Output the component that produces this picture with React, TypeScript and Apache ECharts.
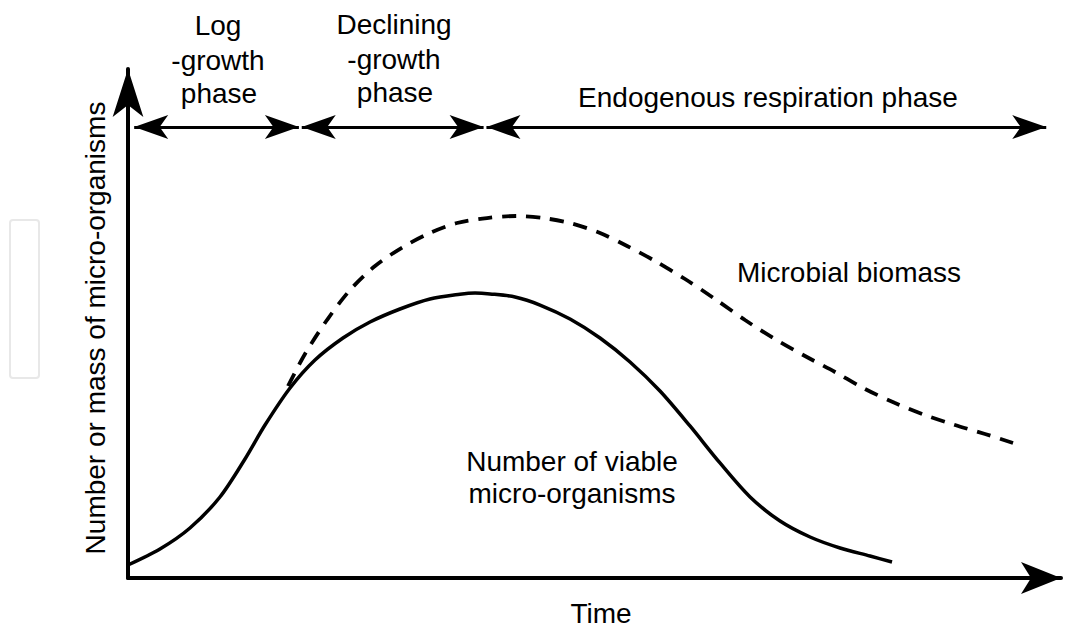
import React, { useEffect, useRef } from "react";
import * as echarts from "echarts";

// Time axis (arbitrary units) and curve values
const viableX = [0, 3.36, 6.51, 9.66, 12.29, 14.39, 17.02, 19.64, 22.58, 25.42, 28.57, 31.72, 34.87, 36.45, 38.03, 40.65, 43.28, 46.43, 49.58, 52.73, 55.88, 59.03, 62.18, 65.34, 68.49, 71.64, 74.79, 77.94, 80.25];
const viableY = [2.44, 5.44, 9.38, 15.2, 22.33, 28.7, 35.65, 40.9, 45.03, 48.03, 50.47, 52.35, 53.24, 53.47, 53.3, 52.72, 51.22, 48.59, 45.03, 40.53, 35.08, 28.52, 21.58, 15.2, 10.69, 7.69, 5.63, 4.13, 3.0];

const biomassX = [16.81, 18.59, 20.9, 23.32, 25.95, 28.89, 31.72, 34.56, 37.71, 40.86, 43.59, 46.43, 49.58, 52.42, 55.36, 58.51, 61.66, 64.81, 67.96, 71.11, 74.26, 77.42, 80.57, 83.72, 86.87, 90.02, 92.96];
const biomassY = [36.02, 42.03, 48.4, 54.03, 58.54, 62.1, 64.73, 66.6, 67.54, 67.92, 67.54, 66.6, 64.73, 62.29, 59.47, 56.1, 52.35, 48.4, 44.84, 41.65, 38.65, 35.46, 32.83, 30.58, 28.71, 27.02, 25.33];

// Phase boundaries on the time axis and the level of the phase arrows
const phaseEdges = [0.5, 18.1, 37.5, 96.6];
const phaseLevel = 84.6;
const phaseNames = [["Log", "-growth", "phase"], ["Declining", "-growth", "phase"], ["Endogenous respiration phase"]];

const xMax = 98;
const yMax = 95.5;

export default function App() {
  const ref = useRef<HTMLDivElement>(null);
  useEffect(() => {
    document.body.style.margin = "0";
    const chart = echarts.init(ref.current!, null, { renderer: "svg" });
    const font = "'Liberation Sans', Arial, Helvetica, sans-serif";
    const fs = 28;
    const gap = 0.15;
    const phaseLines = [] as any[];
    for (let i = 0; i < phaseEdges.length - 1; i++) {
      phaseLines.push([
        { coord: [phaseEdges[i] + gap, phaseLevel] },
        { coord: [phaseEdges[i + 1] - gap, phaseLevel] },
      ]);
    }
    const txt = (t: string, x: number, y: number, extra: any = {}) => ({
      type: "text",
      x,
      y,
      ...extra,
      style: { text: t, fill: "#000", font: `${fs}px ${font}`, textAlign: "center", textVerticalAlign: "middle" },
    });
    const option: any = {
      animation: false,
      backgroundColor: "#fff",
      grid: { left: 128, right: 22, top: 69, bottom: 52 },
      xAxis: {
        type: "value",
        min: 0,
        max: xMax,
        axisLine: { show: true, symbol: ["none", "arrow"], symbolSize: [24, 40], lineStyle: { color: "#000", width: 4 } },
        axisTick: { show: false },
        axisLabel: { show: false },
        splitLine: { show: false },
      },
      yAxis: {
        type: "value",
        min: 0,
        max: yMax,
        axisLine: { show: true, symbol: ["none", "arrow"], symbolSize: [23, 48], lineStyle: { color: "#000", width: 4 } },
        axisTick: { show: false },
        axisLabel: { show: false },
        splitLine: { show: false },
      },
      series: [
        {
          type: "line",
          name: "Number of viable micro-organisms",
          data: viableX.map((x, i) => [x, viableY[i]]),
          smooth: 0.3,
          showSymbol: false,
          lineStyle: { color: "#000", width: 3.5 },
          markLine: {
            silent: true,
            symbol: ["arrow", "arrow"],
            symbolSize: [18, 34],
            label: { show: false },
            lineStyle: { color: "#000", width: 3, type: "solid" },
            data: phaseLines,
          },
        },
        {
          type: "line",
          name: "Microbial biomass",
          data: biomassX.map((x, i) => [x, biomassY[i]]),
          smooth: 0.3,
          showSymbol: false,
          lineStyle: { color: "#000", width: 3.8, type: [14, 10] },
        },
      ],
      graphic: [
        { type: "rect", shape: { x: 10, y: 220, width: 29, height: 158, r: 3 }, style: { fill: "none", stroke: "#e8e8e8", lineWidth: 2 } },
        txt(phaseNames[0][0], 218, 25),
        txt(phaseNames[0][1], 218, 60),
        txt(phaseNames[0][2], 219, 93),
        txt(phaseNames[1][0], 394, 24.5),
        txt(phaseNames[1][1], 394, 59.5),
        txt(phaseNames[1][2], 395, 92.5),
        txt(phaseNames[2][0], 768, 97),
        txt("Microbial biomass", 849, 272),
        txt("Number of viable", 572, 461),
        txt("micro-organisms", 572, 493),
        txt("Time", 601, 613),
        txt("Number or mass of micro-organisms", 95, 328, { rotation: Math.PI / 2 }),
      ],
    };
    chart.setOption(option);
    return () => chart.dispose();
  }, []);
  return <div ref={ref} style={{ width: 1083, height: 630 }} />;
}
